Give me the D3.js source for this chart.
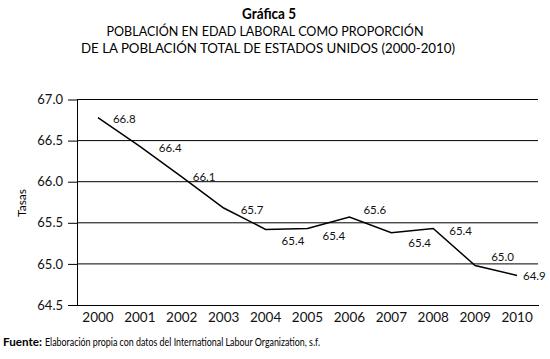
<!DOCTYPE html>
<html>
<head>
<meta charset="utf-8">
<script src="https://cdn.jsdelivr.net/npm/d3@7"></script>
<style>
  body { margin: 0; background: #fff; }
  svg { font-family: Lato, "Open Sans", sans-serif; }
</style>
</head>
<body>
<div id="container"></div>
<script>
// values
let years = ["2000", "2001", "2002", "2003", "2004", "2005", "2006", "2007", "2008", "2009", "2010"];
let rates = [66.78, 66.43, 66.06, 65.68, 65.42, 65.43, 65.57, 65.38, 65.43, 64.98, 64.86];
let rateLabels = ["66.8", "66.4", "66.1", "65.7", "65.4", "65.4", "65.6", "65.4", "65.4", "65.0", "64.9"];
let yTicks = [64.5, 65.0, 65.5, 66.0, 66.5, 67.0];

// label nudges (dx, dy) so they sit like the original
let labelDx = [15, 19, 11, 17, 16, 15, 14, 17, 16, 16, 6];
let labelDy = [1, 2, 0, 2, 12, 7, -7, 10, 2, -9, 1];

let w = 550;
let h = 359;
let mLeft = 77, mRight = 538, mTop = 99.5, mBottom = 305;

let viz = d3.select("#container")
  .append("svg")
  .attr("width", w)
  .attr("height", h)
  .style("background-color", "#fff");

// titles
viz.append("text")
  .attr("x", 269).attr("y", 19)
  .attr("text-anchor", "middle")
  .attr("textLength", 54).attr("lengthAdjust", "spacingAndGlyphs")
  .style("font-size", "15px").style("font-weight", "bold")
  .text("Gráfica 5");
viz.append("text")
  .attr("x", 265).attr("y", 35.5)
  .attr("text-anchor", "middle")
  .attr("textLength", 317).attr("lengthAdjust", "spacingAndGlyphs")
  .style("font-size", "14px")
  .text("POBLACIÓN EN EDAD LABORAL COMO PROPORCIÓN");
viz.append("text")
  .attr("x", 268).attr("y", 53)
  .attr("text-anchor", "middle")
  .attr("textLength", 374).attr("lengthAdjust", "spacingAndGlyphs")
  .style("font-size", "14px")
  .text("DE LA POBLACIÓN TOTAL DE ESTADOS UNIDOS (2000-2010)");

let xScale = d3.scaleBand()
  .domain(years)
  .range([mLeft, mRight]);

let yScale = d3.scaleLinear()
  .domain([64.5, 67])
  .range([mBottom, mTop]);

// gridlines
viz.append("g")
  .selectAll("line")
  .data(yTicks.slice(1))
  .enter()
  .append("line")
  .attr("x1", mLeft).attr("x2", mRight)
  .attr("y1", d => yScale(d)).attr("y2", d => yScale(d))
  .attr("stroke", "#000").attr("stroke-width", 1);

// y axis
let yAxis = viz.append("g")
  .attr("transform", `translate(${mLeft}, 0)`)
  .call(d3.axisLeft(yScale).tickValues(yTicks).tickFormat(d3.format(".1f")).tickSizeOuter(0).tickSizeInner(9).tickPadding(5));
yAxis.select(".domain").attr("stroke", "#000");
yAxis.selectAll("text").style("font-size", "13px").style("font-family", "Lato, sans-serif").attr("fill", "#111");

// x axis
let xAxis = viz.append("g")
  .attr("transform", `translate(0, ${mBottom})`)
  .call(d3.axisBottom(xScale).tickSize(0).tickPadding(7));
xAxis.select(".domain").attr("d", `M${mLeft},0.5H${mRight + 1}`).attr("stroke", "#000");
xAxis.selectAll("text").style("font-size", "13.5px").style("font-family", "Lato, sans-serif").attr("fill", "#111");

// axis title
viz.append("text")
  .attr("transform", "translate(26, 203) rotate(-90)")
  .attr("text-anchor", "middle")
  .style("font-size", "12px")
  .text("Tasas");

// line
let lineMaker = d3.line()
  .x((d, i) => xScale(years[i]) + xScale.bandwidth() / 2)
  .y(d => yScale(d));

viz.append("path")
  .datum(rates)
  .attr("fill", "none")
  .attr("stroke", "#000")
  .attr("stroke-width", 1.5)
  .attr("d", lineMaker);

// data labels
viz.append("g")
  .selectAll("text")
  .data(rates)
  .enter()
  .append("text")
  .attr("x", (d, i) => xScale(years[i]) + xScale.bandwidth() / 2 + labelDx[i])
  .attr("y", (d, i) => yScale(d) + labelDy[i])
  .attr("dy", "0.35em")
  .style("font-size", "11.5px")
  .attr("fill", "#111")
  .text((d, i) => rateLabels[i]);

// source
viz.append("text")
  .attr("x", 3).attr("y", 346)
  .attr("textLength", 39).attr("lengthAdjust", "spacingAndGlyphs")
  .style("font-size", "12px").style("font-weight", "bold")
  .text("Fuente:");
viz.append("text")
  .attr("x", 45).attr("y", 346)
  .attr("textLength", 275).attr("lengthAdjust", "spacingAndGlyphs")
  .style("font-size", "12px")
  .text("Elaboración propia con datos del International Labour Organization, s.f.");
</script>
</body>
</html>
